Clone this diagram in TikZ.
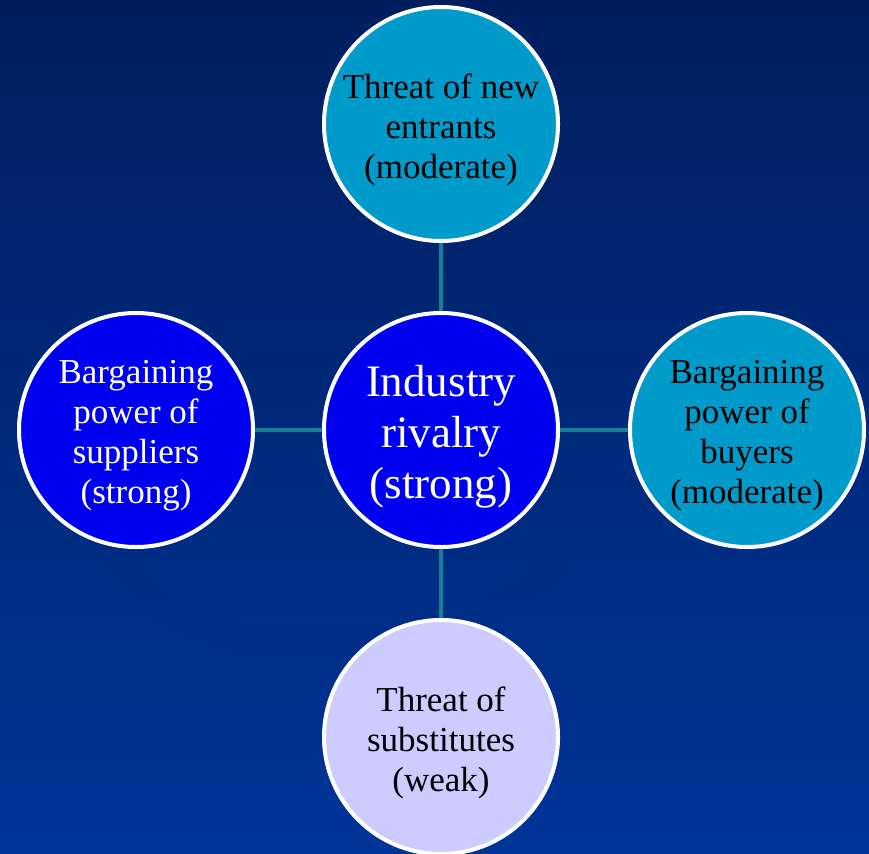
\documentclass[tikz,border=0pt]{standalone}
\usepackage{fontspec}
\setmainfont{Liberation Serif}
\definecolor{bgtop}{RGB}{0,30,94}
\definecolor{bgbot}{RGB}{0,52,152}
\definecolor{teal}{RGB}{0,155,203}
\definecolor{royal}{RGB}{0,0,240}
\definecolor{lav}{RGB}{204,204,255}
\definecolor{conn}{RGB}{24,128,150}
\begin{document}
\begin{tikzpicture}[x=1pt,y=-1pt,
  bubble/.style={circle,draw=white,line width=4pt,minimum size=234pt,inner sep=0pt},
  txt/.style={align=center,inner sep=0pt,font=\fontsize{35}{40}\selectfont},
  link/.style={draw=conn,line width=4pt}]
\shade[top color=bgtop,bottom color=bgbot,shading angle=0] (0,0) rectangle (869,853);
\useasboundingbox (0,0) rectangle (869,853);
\draw[line width=30pt,draw=bgbot!85!black,opacity=0.25] (120,560) .. controls (200,700) and (500,640) .. (560,560);
\node[bubble,fill=royal] (c) at (441,430) {};
\node[bubble,fill=teal] (t) at (441,124) {};
\node[bubble,fill=royal] (l) at (136,430) {};
\node[bubble,fill=teal] (r) at (747,430) {};
\node[bubble,fill=lav] (b) at (441,737) {};
\node[txt,text=white,font=\fontsize{45}{51}\selectfont] (ct) at ([yshift=-7pt]c.center) {Industry\\rivalry\\(strong)};
\node[txt,text=black] (tt) at ([yshift=-6pt]t.center) {Threat of new\\entrants\\(moderate)};
\node[txt,text=white] (lt) at ([yshift=-6pt]l.center) {Bargaining\\power of\\suppliers\\(strong)};
\node[txt,text=black] (rt) at ([yshift=-6pt]r.center) {Bargaining\\power of\\buyers\\(moderate)};
\node[txt,text=black] (bt) at ([yshift=-6pt]b.center) {Threat of\\substitutes\\(weak)};
\draw[link] (c) -- (t);
\draw[link] (c) -- (l);
\draw[link] (c) -- (r);
\draw[link] (c) -- (b);
\end{tikzpicture}
\end{document}
